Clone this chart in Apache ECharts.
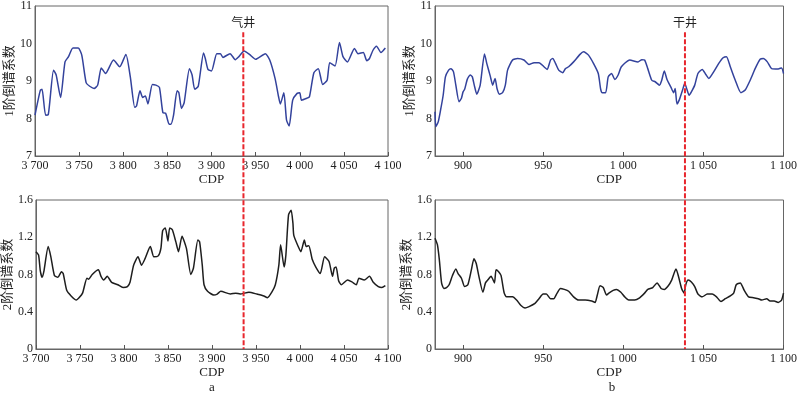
<!DOCTYPE html>
<html>
<head>
<meta charset="utf-8">
<script src="https://cdn.jsdelivr.net/npm/echarts@6/dist/echarts.min.js"></script>
<style>
  html, body { margin: 0; padding: 0; background: #fff; }
  #chart { width: 800px; height: 395px; }
</style>
</head>
<body>
<div id="chart"></div>
<script>
// a: 气井 section, CDP 3700-4100
const cdpA1 = [3700,3706,3708,3712,3715,3721,3724,3729,3734,3738,3743,3749,3753,3758,3762,3767,3771,3775,3777,3780,3789,3796,3803,3808,3813,3815,3819,3822,3825,3828,3833,3837,3841,3845,3848,3852,3854,3857,3861,3863,3866,3869,3875,3878,3881,3885,3891,3893,3896,3900,3906,3910,3913,3921,3927,3931,3937,3943,3950,3961,3966,3972,3976,3978,3982,3985,3988,3992,3997,4000,4002,4008,4011,4016,4021,4026,4031,4034,4040,4045,4049,4054,4062,4066,4072,4076,4079,4083,4087,4092,4097];
const c1A = [8.09,8.75,8.78,8.09,8.1,9.29,9.16,8.56,9.51,9.65,9.88,9.88,9.69,8.95,8.86,8.8,8.89,9.35,9.29,9.2,9.56,9.38,9.71,9.11,8.3,8.33,8.74,8.56,8.6,8.39,8.91,8.89,8.83,8.15,8.14,7.85,7.85,8.09,8.74,8.69,8.27,8.42,9.33,9.16,8.78,8.86,9.75,9.6,9.31,9.27,9.73,9.73,9.63,9.73,9.57,9.65,9.8,9.71,9.58,9.73,9.56,9.07,8.58,8.39,8.69,7.96,7.8,8.49,8.67,8.69,8.49,8.54,8.58,9.22,9.33,8.91,9.02,9.49,9.4,10.03,9.65,9.51,9.87,9.73,9.76,9.54,9.6,9.82,9.93,9.76,9.88];

const cdpA2 = [3700,3703,3705,3707,3709,3714,3717,3721,3725,3729,3731,3735,3740,3746,3749,3753,3758,3760,3764,3771,3774,3777,3781,3786,3793,3799,3804,3807,3811,3816,3820,3824,3830,3834,3839,3842,3844,3847,3850,3852,3855,3859,3862,3866,3871,3876,3879,3884,3886,3889,3891,3895,3902,3906,3910,3921,3927,3932,3942,3951,3959,3963,3968,3972,3976,3978,3982,3984,3987,3990,3992,3993,3998,4001,4005,4007,4010,4014,4018,4023,4028,4033,4037,4039,4041,4044,4047,4054,4059,4064,4067,4073,4079,4083,4089,4093,4097];
const c2A = [1.045,1.01,0.84,0.77,0.83,1.1,0.99,0.79,0.77,0.83,0.81,0.63,0.57,0.526,0.55,0.6,0.76,0.75,0.8,0.85,0.78,0.74,0.78,0.716,0.69,0.66,0.67,0.72,0.9,0.99,0.9,0.97,1.1,0.99,1.0,1.08,1.27,1.3,1.16,1.3,1.28,1.15,1.045,1.21,1.08,0.8,0.87,1.17,1.15,0.9,0.69,0.62,0.58,0.59,0.62,0.59,0.6,0.59,0.61,0.59,0.57,0.55,0.61,0.69,0.9,1.12,0.88,1.01,1.44,1.49,1.35,1.22,1.1,1.045,1.17,1.1,1.11,0.96,0.88,0.81,0.99,0.94,0.78,0.87,0.88,0.73,0.69,0.74,0.72,0.69,0.76,0.74,0.78,0.72,0.67,0.66,0.68];

// b: 干井 section, CDP 882-1100
const cdpB1 = [882.5,883,884.5,886,887.6,889,891,892.4,894,895.5,897.5,899,900,901,902.7,904.5,905.8,907,908.6,910.7,913.4,914.8,917,918.5,920,921.2,922.7,924.7,926.4,927.8,930.9,934,938,941.2,944.3,947.4,950.5,952.5,954.6,956,957.7,959.7,962.2,963.9,965.9,969,973,975.2,978.3,981.4,984.4,985.9,986.9,989,990.6,992.7,994.7,996.8,998.8,1004,1009.2,1011.6,1013.3,1015.3,1017.8,1019.9,1022.6,1024,1025.6,1027.3,1029.8,1031.4,1032.4,1033.5,1034.9,1037,1038.4,1039.7,1041.1,1042.5,1044.6,1046.6,1049.3,1051.4,1053.4,1056.5,1059.6,1062.3,1064.4,1066.8,1069.9,1073.4,1076.1,1079.2,1082.3,1085.4,1087.4,1089.9,1092.6,1096.7,1098.8,1100];
const c1B = [8.18,7.78,7.91,8.23,8.62,9.11,9.29,9.33,9.25,8.89,8.45,8.54,8.71,8.78,9.05,9.16,9.11,8.89,8.65,8.89,9.72,9.47,9.13,8.89,9.07,8.8,8.65,8.69,8.89,9.29,9.56,9.6,9.56,9.44,9.49,9.49,9.38,9.31,9.56,9.6,9.47,9.29,9.22,9.33,9.38,9.51,9.71,9.78,9.69,9.47,9.2,8.78,8.69,8.69,9.11,9.2,9.04,9.16,9.38,9.56,9.51,9.57,9.56,9.33,9.02,8.98,8.89,9.02,9.27,9.04,8.83,8.69,8.8,8.39,8.49,8.76,8.94,8.78,8.62,8.71,8.89,9.2,9.31,9.18,9.07,9.25,9.47,9.62,9.65,9.38,9.02,8.69,8.76,9.02,9.33,9.58,9.6,9.51,9.33,9.32,9.35,9.2];

const cdpB2 = [882.5,884,885.2,886.6,888,889.7,891.3,893.4,895.5,896.9,899,901,903,905.2,906.8,908.2,909.9,912.4,914,915.4,917.5,919.6,920.6,922.2,923.7,925.7,927.2,930.9,933.4,936,938.7,941.2,944.9,947.4,950,952,954.6,956.6,958.7,960.8,963.2,965.9,969,972.1,976.2,980.3,982.4,983.8,985.5,987.5,989.6,991,993.7,995.8,998.5,1000.9,1003.4,1007.1,1010.2,1013.3,1015.3,1018.4,1021.1,1023.6,1025.6,1028.1,1030.2,1032.9,1034.3,1036.4,1038,1039,1040.5,1042.5,1044.6,1046.6,1049.3,1052.4,1055.5,1058.2,1061,1063.7,1066.8,1068.9,1070.5,1073,1075.5,1078.2,1081.3,1084.3,1086.4,1089.5,1091.6,1094.2,1096.7,1098.8,1100];
const c2B = [1.19,1.12,0.96,0.71,0.65,0.66,0.69,0.79,0.86,0.81,0.76,0.67,0.69,0.85,0.97,0.92,0.78,0.61,0.71,0.74,0.78,0.71,0.85,0.83,0.79,0.6,0.56,0.56,0.526,0.47,0.44,0.455,0.49,0.54,0.59,0.59,0.54,0.54,0.6,0.65,0.64,0.62,0.56,0.526,0.526,0.515,0.5,0.58,0.68,0.66,0.58,0.6,0.63,0.64,0.61,0.56,0.526,0.526,0.55,0.6,0.64,0.66,0.71,0.65,0.64,0.68,0.74,0.86,0.79,0.65,0.6,0.69,0.74,0.72,0.67,0.59,0.56,0.59,0.59,0.56,0.51,0.54,0.57,0.6,0.69,0.71,0.63,0.56,0.55,0.54,0.526,0.54,0.515,0.515,0.5,0.526,0.6];

const ticksA = [3700, 3750, 3800, 3850, 3900, 3950, 4000, 4050, 4100];
const ticksB = [900, 950, 1000, 1050, 1100];
const wells = [
  { name: "气井", cdp: 3936, grids: [0, 1] },
  { name: "干井", cdp: 1038.5, grids: [2, 3] },
];

const serif = "'Liberation Serif', 'Times New Roman', serif";
const cjk = "'Liberation Serif', 'Noto Sans CJK SC', serif";

const chart = echarts.init(document.getElementById("chart"));

function cdpLabel(v) {
  if (v >= 1000) {
    return Math.floor(v / 1000) + " " + String(v % 1000).padStart(3, "0");
  }
  return String(v);
}

function xAxis(gridIndex, min, max, ticks) {
  return {
    type: "value",
    gridIndex: gridIndex,
    min: min,
    max: max,
    name: "CDP",
    nameLocation: "middle",
    nameGap: 17,
    nameTextStyle: { fontFamily: serif, fontSize: 13, color: "#222" },
    axisLine: { show: true, lineStyle: { color: "#666" } },
    axisTick: { show: true, inside: true, length: 4, customValues: ticks, lineStyle: { color: "#555" } },
    axisLabel: { customValues: ticks, formatter: cdpLabel, fontFamily: serif, fontSize: 12, color: "#222", margin: 4 },
    splitLine: { show: false },
  };
}

function yAxis(gridIndex, name, min, max, interval) {
  return {
    type: "value",
    gridIndex: gridIndex,
    min: min,
    max: max,
    interval: interval,
    name: name,
    nameLocation: "middle",
    nameGap: 15,
    nameTextStyle: { fontFamily: cjk, fontSize: 13, color: "#222" },
    axisLine: { show: true, lineStyle: { color: "#666" } },
    axisTick: { show: false },
    axisLabel: {
      fontFamily: serif, fontSize: 12, color: "#222", margin: 3,
      formatter: (v) => (interval < 1 ? (v === 0 ? "0" : v.toFixed(1)) : String(v)),
    },
    splitLine: { show: false },
  };
}

function line(xi, data, color) {
  return {
    type: "line",
    xAxisIndex: xi,
    yAxisIndex: xi,
    data: data,
    showSymbol: false,
    symbol: "none",
    smooth: 0.2,
    lineStyle: { color: color, width: 1.5 },
    silent: true,
  };
}

const zip = (xs, ys) => xs.map((x, i) => [x, ys[i]]);

const gridBox = { show: true, borderColor: "#666", borderWidth: 1, containLabel: false };

const option = {
  animation: false,
  backgroundColor: "#fff",
  grid: [
    Object.assign({ left: 35, top: 5, width: 353, height: 151 }, gridBox),
    Object.assign({ left: 35, top: 200, width: 353, height: 149 }, gridBox),
    Object.assign({ left: 435, top: 5, width: 352, height: 151 }, gridBox),
    Object.assign({ left: 435, top: 200, width: 352, height: 149 }, gridBox),
  ],
  xAxis: [
    xAxis(0, 3700, 4100, ticksA),
    xAxis(1, 3700, 4100, ticksA),
    xAxis(2, 882.5, 1100, ticksB),
    xAxis(3, 882.5, 1100, ticksB),
  ],
  yAxis: [
    yAxis(0, "1阶倒谱系数", 7, 11, 1),
    yAxis(1, "2阶倒谱系数", 0, 1.6, 0.4),
    yAxis(2, "1阶倒谱系数", 7, 11, 1),
    yAxis(3, "2阶倒谱系数", 0, 1.6, 0.4),
  ],
  series: [
    line(0, zip(cdpA1, c1A), "#33429c"),
    line(1, zip(cdpA2, c2A), "#1e1e1e"),
    line(2, zip(cdpB1, c1B), "#33429c"),
    line(3, zip(cdpB2, c2B), "#1e1e1e"),
  ],
};

chart.setOption(option);

// well markers: dashed red line from the top panel down through the bottom panel
const graphics = [];
wells.forEach((w) => {
  const top = chart.convertToPixel({ gridIndex: w.grids[0] }, [w.cdp, 10.3]);
  const lbl = chart.convertToPixel({ gridIndex: w.grids[0] }, [w.cdp, 10.55]);
  const bot = chart.convertToPixel({ gridIndex: w.grids[1] }, [w.cdp, 0]);
  graphics.push({
    type: "line",
    z: 100,
    shape: { x1: top[0], y1: top[1], x2: bot[0], y2: bot[1] },
    style: { stroke: "#e8262d", lineWidth: 2, lineDash: [5, 2] },
  });
  graphics.push({
    type: "text",
    z: 100,
    x: lbl[0],
    y: lbl[1],
    style: { text: w.name, fill: "#222", font: "12px 'Noto Sans CJK SC'", align: "center", verticalAlign: "middle" },
  });
});

// sub-figure captions under each column
const capA = chart.convertToPixel({ gridIndex: 1 }, [3900, 0]);
const capB = chart.convertToPixel({ gridIndex: 3 }, [993, 0]);
graphics.push({ type: "text", x: capA[0], y: 388, style: { text: "a", fill: "#222", font: "13px " + serif, align: "center", verticalAlign: "middle" } });
graphics.push({ type: "text", x: capB[0], y: 388, style: { text: "b", fill: "#222", font: "13px " + serif, align: "center", verticalAlign: "middle" } });

chart.setOption({ graphic: graphics });
</script>
</body>
</html>
